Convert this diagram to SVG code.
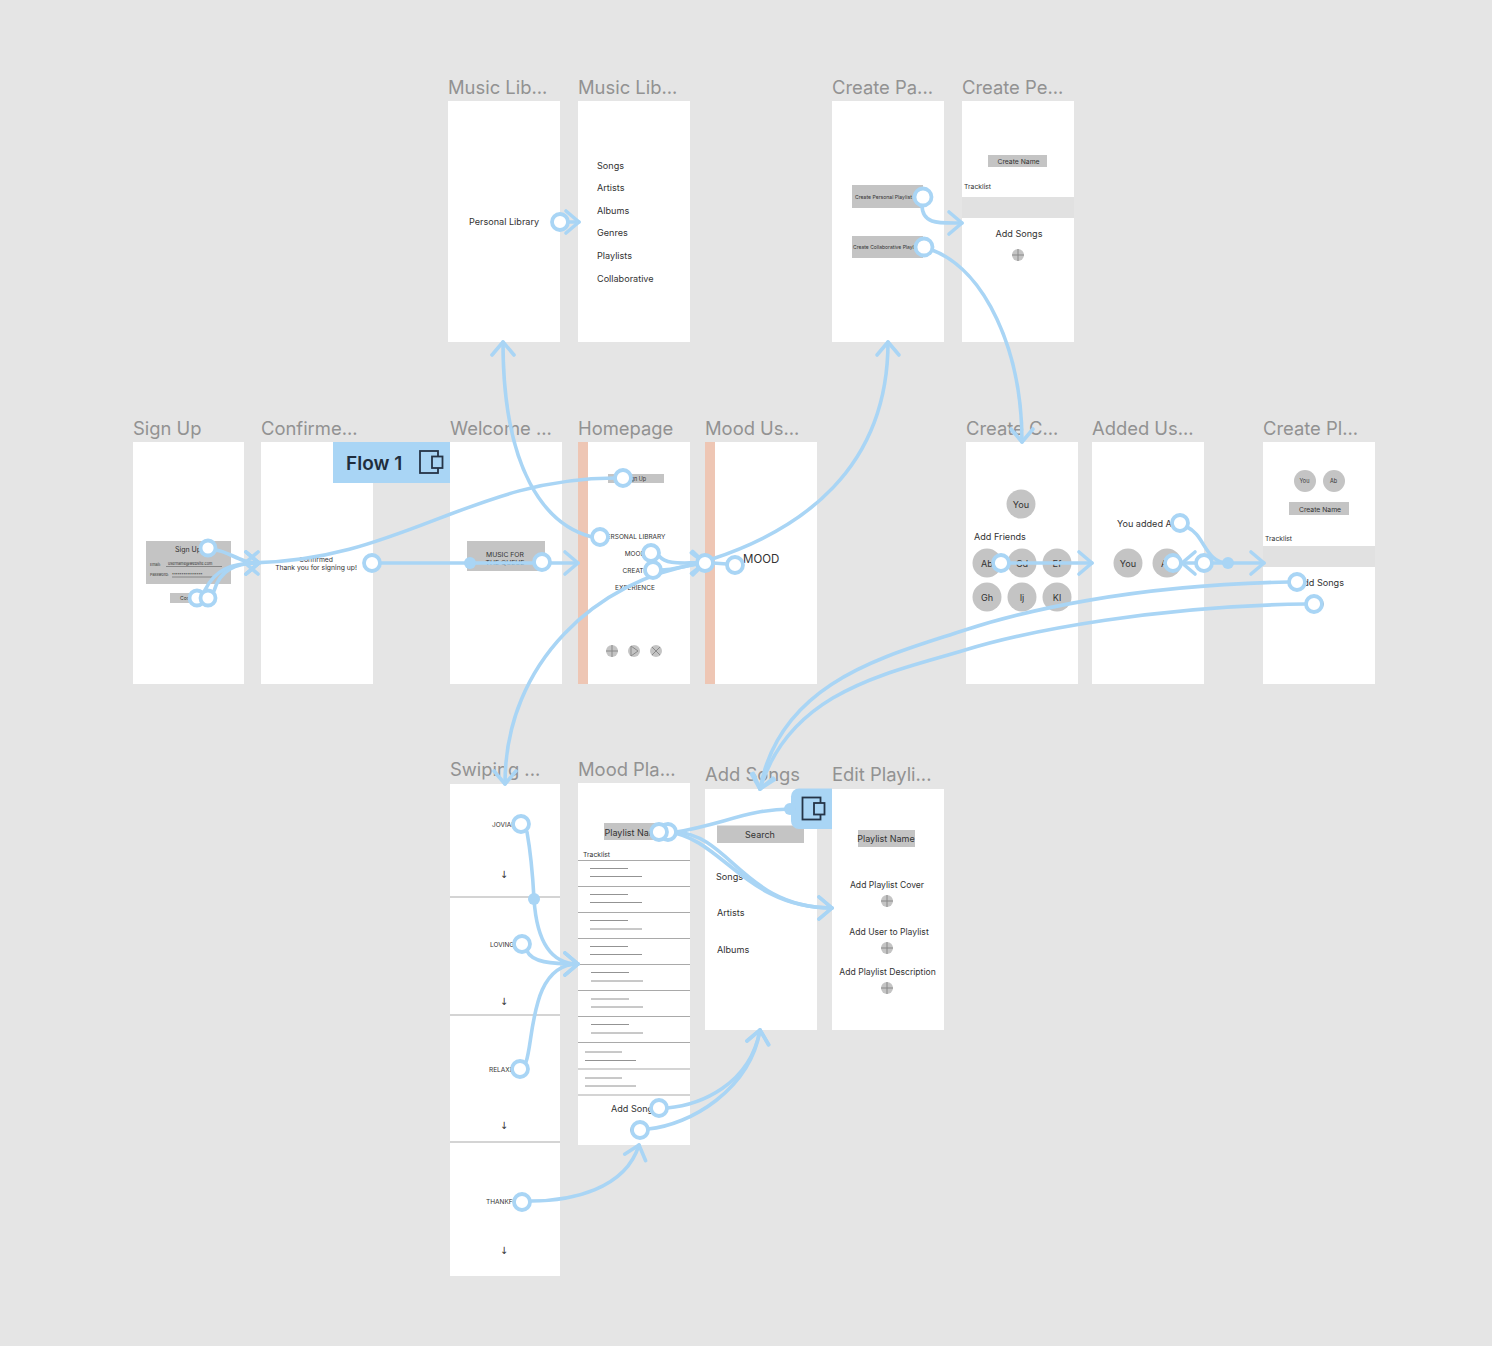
<svg xmlns="http://www.w3.org/2000/svg" width="1492" height="1346" viewBox="0 0 1492 1346">
<style>
text{font-family:Inter,"Liberation Sans",sans-serif;fill:#333;font-size:9.100px}
.t{font-size:18.400px;fill:#929292}
.f{fill:#fff}
.g{fill:#c4c4c4}
.b{fill:#e1e1e1}
.s{fill:#eec6b4}
.m{text-anchor:middle}
.d{stroke:#a9a9a9;stroke-width:1;fill:none}
.r{stroke:#777;stroke-width:.8;fill:none}
.ic{stroke:#8a8a8a;stroke-width:1;fill:none}
.c{fill:none;stroke:#a9d5f5;stroke-width:3.6;stroke-linecap:round}
.a{marker-end:url(#ar)}
.p{fill:#fff;stroke:#a9d5f5;stroke-width:3.8}
.o{fill:#a9d5f5}
.fi{fill:#a9d5f5;stroke:#253447;stroke-width:1.8}
.ar{font-family:"DejaVu Sans",sans-serif;font-size:10px;fill:#333}
</style>
<defs>
<marker id="ar" viewBox="-16 -14 20 28" markerWidth="20" markerHeight="28" refX="0" refY="0" orient="auto" markerUnits="userSpaceOnUse"><path d="M-13 -11L0 0L-13 11" fill="none" stroke="#a9d5f5" stroke-width="3.6" stroke-linecap="round" stroke-linejoin="round"/></marker>
<g id="plus"><circle r="6" class="g"/><path d="M-6 0H6M0-6V6" class="ic"/></g>
</defs>
<rect width="1492" height="1346" fill="#e5e5e5"/>

<g id="music-lib-1"><text class="t" x="448" y="94">Music Lib...</text><rect class="f" x="448" y="101" width="112" height="241"/><text x="469" y="225">Personal Library</text></g>
<g id="music-lib-2"><text class="t" x="578" y="94">Music Lib...</text><rect class="f" x="578" y="101" width="112" height="241"/><text x="597" y="168.500">Songs</text><text x="597" y="191">Artists</text><text x="597" y="214">Albums</text><text x="597" y="236">Genres</text><text x="597" y="259">Playlists</text><text x="597" y="281.500">Collaborative</text></g>
<g id="create-pa"><text class="t" x="832" y="94">Create Pa...</text><rect class="f" x="832" y="101" width="112" height="241"/><rect class="g" x="852" y="185" width="71" height="23"/><rect class="g" x="852" y="236" width="71" height="22"/><text x="855" y="198.500" style="font-size:5.100px">Create Personal Playlist</text><text x="853" y="249" style="font-size:5px">Create Collaborative Playlist</text></g>
<g id="create-pe"><text class="t" x="962" y="94">Create Pe...</text><rect class="f" x="962" y="101" width="112" height="241"/><rect class="g" x="988" y="155" width="59" height="12"/><text class="m" x="1018.500" y="163.500" style="font-size:6.800px">Create Name</text><text x="964" y="188.500" style="font-size:6.800px">Tracklist</text><rect class="b" x="962" y="197" width="112" height="21"/><text class="m" x="1019" y="237">Add Songs</text><use href="#plus" x="1018" y="255"/></g>

<g id="sign-up"><text class="t" x="133" y="435">Sign Up</text><rect class="f" x="133" y="442" width="111" height="242"/><rect class="g" x="146" y="541" width="85" height="43"/><text x="175" y="552" style="font-size:7px">Sign Up</text><text x="150" y="565.500" style="font-size:3.800px">Email:</text><text x="168" y="564.500" style="font-size:3.800px">username@website.com</text><path class="r" d="M166 566.500H222M172 577H215"/><text x="150" y="576" style="font-size:3.800px">Password:</text><text x="172" y="575.500" style="font-size:3.800px">****************</text><rect class="g" x="170" y="593" width="34" height="10"/><text x="180" y="600" style="font-size:5px">Confirm</text></g>
<g id="confirmed"><text class="t" x="261" y="435">Confirme...</text><rect class="f" x="261" y="442" width="112" height="242"/><text class="m" x="316" y="561.500" style="font-size:6.800px">Confirmed</text><text class="m" x="316" y="570" style="font-size:6.800px">Thank you for signing up!</text></g>
<g id="welcome"><text class="t" x="450" y="435">Welcome ...</text><rect class="f" x="450" y="442" width="112" height="242"/><rect class="g" x="467" y="541" width="78" height="30"/><text class="m" x="505" y="556.500" style="font-size:6.800px">MUSIC FOR</text><text class="m" x="505" y="565" style="font-size:6.800px">THE QUEUE</text></g>
<g id="homepage"><text class="t" x="578" y="435">Homepage</text><rect class="f" x="578" y="442" width="112" height="242"/><rect class="s" x="578" y="442" width="10" height="242"/><rect class="g" x="608" y="474" width="56" height="9"/><text class="m" x="636" y="480.500" style="font-size:5.500px">Sign Up</text><text class="m" x="634" y="539" style="font-size:6.500px">PERSONAL LIBRARY</text><text class="m" x="635" y="555.500" style="font-size:6.500px">MOOD</text><text class="m" x="635" y="572.500" style="font-size:6.500px">CREATE</text><text class="m" x="635" y="589.500" style="font-size:6.500px">EXPERIENCE</text><use href="#plus" x="612" y="651"/><g transform="translate(634 651)"><circle r="6" class="g"/><path d="M-3-5L4 0L-3 5Z" class="ic"/></g><g transform="translate(656 651)"><circle r="6" class="g"/><path d="M-4-4L4 4M4-4L-4 4" class="ic"/></g></g>
<g id="mood-us"><text class="t" x="705" y="435">Mood Us...</text><rect class="f" x="705" y="442" width="112" height="242"/><rect class="s" x="705" y="442" width="10" height="242"/><text x="743" y="563" style="font-size:11.500px">MOOD</text></g>
<g id="create-c"><text class="t" x="966" y="435">Create C...</text><rect class="f" x="966" y="442" width="112" height="242"/><circle class="g" cx="1021" cy="504" r="14.500"/><text class="m" x="1021" y="507.500">You</text><text x="974" y="540">Add Friends</text><circle class="g" cx="987" cy="563" r="14.500"/><circle class="g" cx="1022" cy="563" r="14.500"/><circle class="g" cx="1057" cy="563" r="14.500"/><circle class="g" cx="987" cy="597" r="14.500"/><circle class="g" cx="1022" cy="597" r="14.500"/><circle class="g" cx="1057" cy="597" r="14.500"/><text class="m" x="987" y="566.500">Ab</text><text class="m" x="1022" y="566.500">Cd</text><text class="m" x="1057" y="566.500">Ef</text><text class="m" x="987" y="600.500">Gh</text><text class="m" x="1022" y="600.500">Ij</text><text class="m" x="1057" y="600.500">Kl</text></g>
<g id="added-us"><text class="t" x="1092" y="435">Added Us...</text><rect class="f" x="1092" y="442" width="112" height="242"/><text x="1117" y="526.500">You added Ab</text><circle class="g" cx="1128" cy="563" r="14.500"/><circle class="g" cx="1167" cy="563" r="14.500"/><text class="m" x="1128" y="566.500">You</text><text class="m" x="1167" y="566.500">Ab</text></g>
<g id="create-pl"><text class="t" x="1263" y="435">Create Pl...</text><rect class="f" x="1263" y="442" width="112" height="242"/><circle class="g" cx="1305" cy="481" r="11"/><circle class="g" cx="1334" cy="481" r="11"/><text class="m" x="1304.500" y="483" style="font-size:5.500px">You</text><text class="m" x="1333.500" y="483" style="font-size:5.500px">Ab</text><rect class="g" x="1289" y="502" width="60" height="13"/><text class="m" x="1320" y="511.500" style="font-size:6.800px">Create Name</text><text x="1265" y="540.500" style="font-size:6.800px">Tracklist</text><rect class="b" x="1263" y="546" width="112" height="21"/><text class="m" x="1320.500" y="586">Add Songs</text><use href="#plus" x="1318" y="604"/></g>

<g id="swiping"><text class="t" x="450" y="776">Swiping ...</text><rect class="f" x="450" y="784" width="110" height="492"/><path class="d" d="M450 897H560M450 1015H560M450 1142H560"/><text x="492" y="826.500" style="font-size:6.500px">JOVIAL</text><text x="490" y="946.500" style="font-size:6.500px">LOVING</text><text x="489" y="1071.500" style="font-size:6.500px">RELAXED</text><text x="486" y="1204" style="font-size:6.500px">THANKFUL</text><text class="m ar" x="504" y="878">↓</text><text class="m ar" x="504" y="1005">↓</text><text class="m ar" x="504" y="1129">↓</text><text class="m ar" x="504" y="1254">↓</text></g>
<g id="mood-pla"><text class="t" x="578" y="776">Mood Pla...</text><rect class="f" x="578" y="783" width="112" height="362"/><rect class="g" x="604" y="823" width="63" height="17"/><text x="604.500" y="835.500" style="font-size:9px">Playlist Name</text><text x="583" y="856.500" style="font-size:6.800px">Tracklist</text><path class="d" d="M578 860.500H690M578 886.500H690M578 912.500H690M578 938.500H690M578 964.500H690M578 990.500H690M578 1016.500H690M578 1042.500H690M578 1069H690M578 1095H690"/><path class="r" d="M590 868.500H628M590 876.500H642M590 894.500H628M590 902.500H642M590 920.500H628M590 929H642M590 946.500H628M590 954.500H642M591 972.500H629M591 981H643M591 999H629M591 1007H643M591 1024.500H629M591 1033H643M585 1052H622M585 1060.500H636M585 1078H622M585 1086H636"/><text class="m" x="634.500" y="1112">Add Songs</text><use href="#plus" x="636" y="1130"/></g>
<g id="add-songs"><text class="t" x="705" y="781">Add Songs</text><rect class="f" x="705" y="789" width="112" height="241"/><rect class="g" x="717" y="825.500" width="87" height="17.500"/><text class="m" x="760" y="837.500" style="font-size:9px">Search</text><text x="716" y="879.500">Songs</text><text x="717" y="915.500">Artists</text><text x="717" y="952.500">Albums</text></g>
<g id="edit-playlist"><text class="t" x="832" y="781">Edit Playli...</text><rect class="f" x="832" y="789" width="112" height="241"/><rect class="g" x="858" y="830" width="57" height="17"/><text class="m" x="886" y="842" style="font-size:9px">Playlist Name</text><text class="m" x="887" y="888" style="font-size:8.600px">Add Playlist Cover</text><use href="#plus" x="887" y="901"/><text class="m" x="889" y="935" style="font-size:8.600px">Add User to Playlist</text><use href="#plus" x="887" y="948"/><text class="m" x="887.500" y="975" style="font-size:8.600px">Add Playlist Description</text><use href="#plus" x="887" y="988"/></g>

<g id="flow-1"><rect x="333" y="442" width="117" height="41" fill="#a9d5f5"/><text x="346" y="470" style="font-size:19px;font-weight:600;fill:#1f2d3d">Flow 1</text><rect class="fi" x="420" y="451" width="18" height="22"/><rect class="fi" x="432" y="456.500" width="10.500" height="11.500"/></g>
<g id="flow-2"><path d="M799 788.500H832V829H799A8 8 0 0 1 791 821V796.500A8 8 0 0 1 799 788.500Z" fill="#a9d5f5"/><rect class="fi" x="802.500" y="797.500" width="18" height="22"/><rect class="fi" x="814" y="803" width="10.500" height="11.500"/></g>

<g id="connectors">
<path class="c a" d="M216 550C230 552 240 563 259 563"/>
<path class="c a" d="M205 590C215 570 230 563 259 563"/>
<path class="c a" d="M214 591C220 570 235 563 259 563"/>
<path class="c a" d="M615 478C470 478 400 563 245 563"/>
<path class="c" d="M380 563H534"/>
<path class="c a" d="M550 563H578"/>
<path class="c a" d="M592 537C545 525 503 470 503 342"/>
<path class="c a" d="M659 556C668 566 685 562 705 563"/>
<path class="c a" d="M660 570C675 570 690 564 705 563"/>
<path class="c a" d="M697 564C600 580 505 660 505 784"/>
<path class="c a" d="M712 559C800 530 888 470 888 342"/>
<path class="c" d="M727 564L713 563"/>
<path class="c a" d="M922 205C922 225 940 223 962 223"/>
<path class="c a" d="M932 250C985 270 1022 350 1022 442"/>
<path class="c a" d="M568 222H579"/>
<path class="c a" d="M1009 563H1092"/>
<path class="c a" d="M1196 563H1182"/>
<path class="c" d="M1187 527C1205 535 1205 563 1228 563"/>
<path class="c a" d="M1212 563H1264"/>
<path class="c a" d="M1289 582C1130 585 1020 612 965 630C890 655 780 680 760 789"/>
<path class="c a" d="M1306 604C1160 606 1030 630 965 650C890 673 790 690 760 789"/>
<path class="c" d="M527 832C532 860 533 880 534 899"/>
<path class="c a" d="M534 899C536 930 545 964 578 964"/>
<path class="c a" d="M527 951C532 962 550 964 578 964"/>
<path class="c a" d="M526 1062C534 1040 530 964 578 964"/>
<path class="c a" d="M531 1201C570 1201 625 1190 639 1145"/>
<path class="c a" d="M667 1108C700 1105 750 1085 760 1030"/>
<path class="c a" d="M648 1129C690 1125 750 1090 760 1030"/>
<path class="c a" d="M676 832C730 835 745 908 832 908"/>
<path class="c a" d="M668 832C722 838 745 908 832 908"/>
<path class="c" d="M676 832C720 825 750 809 790 809"/>
<circle class="o" cx="470" cy="563" r="6"/><circle class="o" cx="1228" cy="563" r="6"/><circle class="o" cx="534" cy="899" r="6"/><circle class="o" cx="790" cy="809" r="6"/>
<circle class="p" cx="560" cy="222" r="8"/><circle class="p" cx="923" cy="197" r="8.500"/><circle class="p" cx="924" cy="247" r="8.500"/>
<circle class="p" cx="208" cy="548" r="7.500"/><circle class="p" cx="197" cy="598" r="7.500"/><circle class="p" cx="208" cy="598" r="7.500"/>
<circle class="p" cx="372" cy="563" r="8"/><circle class="p" cx="542" cy="562" r="8"/>
<circle class="p" cx="623" cy="478" r="8"/><circle class="p" cx="600" cy="537" r="8"/><circle class="p" cx="651" cy="553" r="8"/><circle class="p" cx="653" cy="570" r="8"/>
<circle class="p" cx="705" cy="563" r="8"/><circle class="p" cx="735" cy="565" r="8"/>
<circle class="p" cx="1001" cy="563" r="8"/><circle class="p" cx="1180" cy="523" r="8"/><circle class="p" cx="1173" cy="563" r="8"/><circle class="p" cx="1204" cy="563" r="8"/>
<circle class="p" cx="1297" cy="582" r="8"/><circle class="p" cx="1314" cy="604" r="8"/>
<circle class="p" cx="521" cy="824" r="8"/><circle class="p" cx="522" cy="944" r="8"/><circle class="p" cx="520" cy="1069" r="8"/><circle class="p" cx="522" cy="1202" r="8"/>
<circle class="p" cx="668" cy="832" r="8"/><circle class="p" cx="659" cy="832" r="8"/><circle class="p" cx="659" cy="1108" r="8"/><circle class="p" cx="640" cy="1130" r="8"/>
</g>
</svg>
